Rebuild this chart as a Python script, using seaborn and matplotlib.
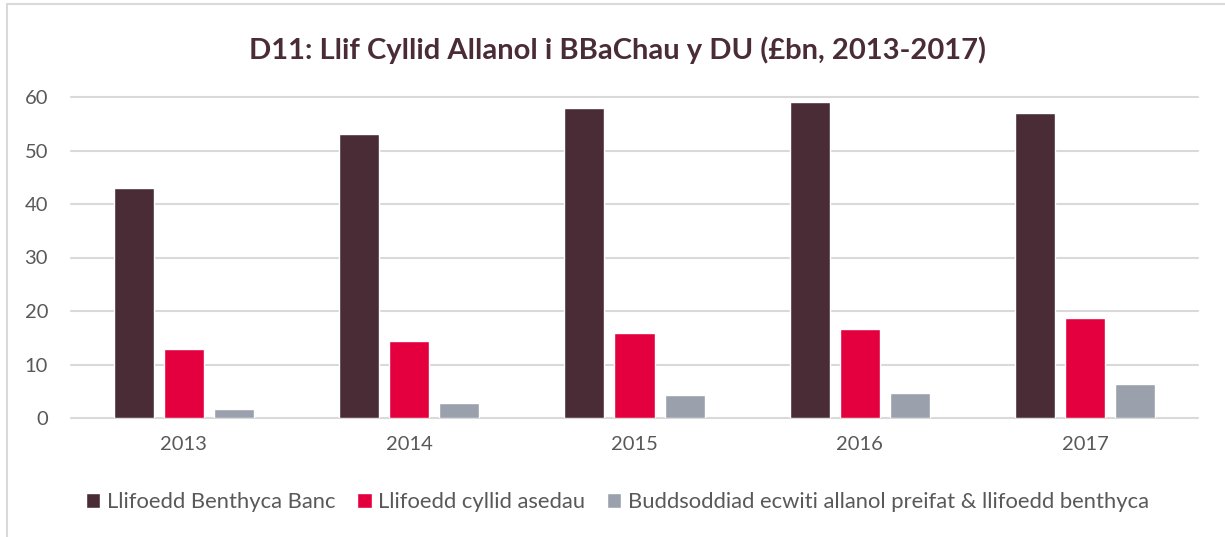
import seaborn as sns
import matplotlib.pyplot as plt
import pandas as pd
from matplotlib.patches import Rectangle

# data (£bn)
years = ["2013", "2014", "2015", "2016", "2017"]
benthyca_banc = [43.0, 53.0, 58.0, 59.0, 57.0]
cyllid_asedau = [12.9, 14.4, 15.9, 16.7, 18.6]
ecwiti = [1.7, 2.8, 4.3, 4.6, 6.3]
series_names = ["Llifoedd Benthyca Banc", "Llifoedd cyllid asedau",
                "Buddsoddiad ecwiti allanol preifat & llifoedd benthyca"]
colours = ["#4A2C37", "#E4003F", "#9AA0AC"]

rows = []
for name, vals in zip(series_names, [benthyca_banc, cyllid_asedau, ecwiti]):
    for yr, v in zip(years, vals):
        rows.append({"Blwyddyn": yr, "Gwerth": v, "Cyfres": name})
df = pd.DataFrame(rows)

sns.set_theme(style="white")
plt.rcParams["font.family"] = ["Lato", "DejaVu Sans"]

fig = plt.figure(figsize=(12.25, 5.37), dpi=100)
ax = fig.add_axes([71 / 1225, 1 - 418 / 537, 1127 / 1225, 321 / 537])

sns.barplot(data=df, x="Blwyddyn", y="Gwerth", hue="Cyfres", palette=colours,
            width=0.667, gap=0.2, ax=ax, saturation=1, legend=True, zorder=3)

ax.set_ylim(0, 60)
ax.set_yticks(range(0, 61, 10))
ax.yaxis.grid(True, color="#D9D9D9", linewidth=1.5, zorder=0)
for gl in ax.get_ygridlines():
    gl.set_clip_on(False)
for s in ax.spines.values():
    s.set_visible(False)
ax.set_xlabel("")
ax.set_ylabel("")
ax.tick_params(axis="y", length=0, pad=16.5, labelsize=14.5, labelcolor="#595959")
ax.tick_params(axis="x", length=0, pad=13, labelsize=14.5, labelcolor="#595959")

ax.set_title("D11: Llif Cyllid Allanol i BBaChau y DU (£bn, 2013-2017)",
             fontsize=21, fontweight="bold", color="#4A2C37", pad=27, x=0.4845)

handles, labels = ax.get_legend_handles_labels()
ax.legend(handles, labels, loc="center", bbox_to_anchor=(0.485, -0.262),
          ncol=3, frameon=False, fontsize=15.8, labelcolor="#595959",
          handlelength=0.65, handleheight=0.65, handletextpad=0.3, columnspacing=1.0)

# light chart border like the original
fig.patches.append(Rectangle((7 / 1225, -0.1), 1.2, 1 - 4 / 537 + 0.1,
                             transform=fig.transFigure, fill=False,
                             edgecolor="#D9D9D9", linewidth=1.5))

fig.savefig("out.png", dpi=100)
